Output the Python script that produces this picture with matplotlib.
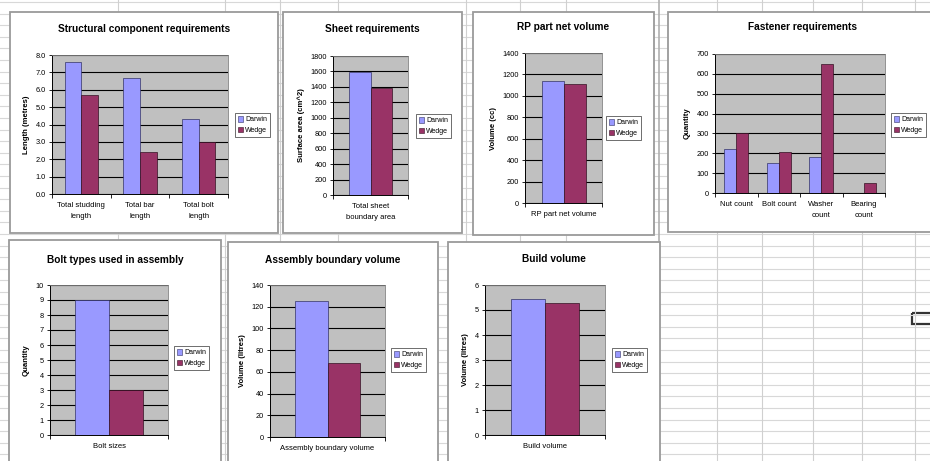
import numpy as np
import matplotlib
matplotlib.use("Agg")
import matplotlib.pyplot as plt
from matplotlib.patches import Rectangle, Patch

plt.rcParams['font.family'] = ['Liberation Sans', 'DejaVu Sans']

series = ["Darwin", "Wedge"]

# chart 1
struct_cats = ["Total studding\nlength", "Total bar\nlength", "Total bolt\nlength"]
struct_darwin = [7.6, 6.7, 4.3]
struct_wedge = [5.7, 2.4, 3.0]

# chart 2
sheet_cats = ["Total sheet\nboundary area"]
sheet_darwin = [1590]
sheet_wedge = [1390]

# chart 3
rp_cats = ["RP part net volume"]
rp_darwin = [1140]
rp_wedge = [1115]

# chart 4
fast_cats = ["Nut count", "Bolt count", "Washer\ncount", "Bearing\ncount"]
fast_darwin = [222, 152, 181, 0]
fast_wedge = [302, 206, 650, 50]

# chart 5
bolt_cats = ["Bolt sizes"]
bolt_darwin = [9]
bolt_wedge = [3]

# chart 6
asm_cats = ["Assembly boundary volume"]
asm_darwin = [125]
asm_wedge = [68]

# chart 7
build_cats = ["Build volume"]
build_darwin = [5.45]
build_wedge = [5.3]

W, H = 930, 461
fig = plt.figure(figsize=(W / 100, H / 100), dpi=100)
fig.patch.set_facecolor('white')


def rect(l, t, r, b):
    return [l / W, 1 - b / H, (r - l) / W, (b - t) / H]


# spreadsheet grid behind the charts
bg = fig.add_axes([0, 0, 1, 1])
bg.set_xlim(0, W)
bg.set_ylim(H, 0)
bg.axis('off')
for y in np.arange(2, H, 11.6):
    bg.axhline(y, color='#d8d8d8', lw=0.8)
for x in [118, 225, 280, 338, 466, 520, 566, 717, 762, 813, 862, 915]:
    bg.axvline(x, color='#d0d0d0', lw=0.8)
bg.axvline(659, color='#b0b0b0', lw=1.2)
bg.add_patch(Rectangle((912, 313), 22, 11, fill=False, ec='#333333', lw=1.6))

darwin_col = '#9999FF'
wedge_col = '#993366'

charts = [
    ("Structural component requirements", "Length (metres)", struct_cats, struct_darwin, struct_wedge,
     8.0, 1.0, '%.1f', (10, 12, 278, 233), (52, 55, 228, 194), (235, 125), 29),
    ("Sheet requirements", "Surface area (cm^2)", sheet_cats, sheet_darwin, sheet_wedge,
     1800, 200, '%d', (283, 12, 462, 233), (333, 56, 408, 195), (416, 126), 29),
    ("RP part net volume", "Volume (cc)", rp_cats, rp_darwin, rp_wedge,
     1400, 200, '%d', (473, 12, 654, 235), (525, 53, 602, 203), (606, 128), 27),
    ("Fastener requirements", "Quantity", fast_cats, fast_darwin, fast_wedge,
     700, 100, '%d', (668, 12, 936, 232), (715, 54, 885, 193), (891, 125), 27),
    ("Bolt types used in assembly", "Quantity", bolt_cats, bolt_darwin, bolt_wedge,
     10, 1, '%d', (9, 240, 221, 466), (50, 285, 168, 435), (174, 358), 260),
    ("Assembly boundary volume", "Volume (litres)", asm_cats, asm_darwin, asm_wedge,
     140, 20, '%d', (228, 242, 438, 466), (270, 285, 385, 437), (391, 360), 260),
    ("Build volume", "Volume (litres)", build_cats, build_darwin, build_wedge,
     6, 1, '%d', (448, 242, 660, 466), (485, 285, 605, 435), (612, 360), 259),
]

for title, ylab, cats, dv, wv, ymax, step, fmt, box, plot, leg, ty in charts:
    # chart frame
    bg.add_patch(Rectangle((box[0], box[1]), box[2] - box[0], box[3] - box[1],
                           fc='white', ec='#9a9a9a', lw=1.3, zorder=3))
    bg.text((box[0] + box[2]) / 2, ty, title, ha='center', va='center',
            fontsize=7.3, fontweight='bold', zorder=4)

    ax = fig.add_axes(rect(*plot))
    ax.set_facecolor('#C0C0C0')
    x = np.arange(len(cats))
    bw = 1 / 3.5
    ax.bar(x - bw / 2, dv, bw, color=darwin_col, edgecolor='#333366', lw=0.5, zorder=3)
    ax.bar(x + bw / 2, wv, bw, color=wedge_col, edgecolor='#331122', lw=0.5, zorder=3)
    ax.set_xlim(-0.5, len(cats) - 0.5)
    ax.set_ylim(0, ymax)
    ticks = np.arange(0, ymax + step / 2, step)
    ax.set_yticks(ticks)
    ax.set_yticklabels([fmt % t for t in ticks])
    ax.yaxis.grid(True, color='#000000', lw=0.8, zorder=1)
    ax.set_axisbelow(True)
    ax.set_xticks(x)
    ax.set_xticklabels(cats)
    ax.set_xticks(np.arange(-0.5, len(cats), 1), minor=True)
    ax.tick_params(axis='x', which='major', length=0, labelsize=5.5, pad=6)
    ax.tick_params(axis='x', which='minor', length=3, width=0.6, direction='out')
    ax.tick_params(axis='y', length=2.5, width=0.6, labelsize=5.3, pad=2)
    for s in ['top', 'right']:
        ax.spines[s].set_color('#808080')
        ax.spines[s].set_linewidth(0.6)
    ax.spines['left'].set_linewidth(0.7)
    ax.spines['bottom'].set_linewidth(0.7)
    ax.set_ylabel(ylab, fontsize=5.6, fontweight='bold', labelpad=4)
    for lab in ax.get_xticklabels():
        lab.set_linespacing(1.7)

    handles = [Patch(fc=darwin_col, ec='#333366', lw=0.4),
               Patch(fc=wedge_col, ec='#331122', lw=0.4)]
    lg = fig.legend(handles, series, loc='center left',
                    bbox_to_anchor=(leg[0] / W, 1 - leg[1] / H),
                    fontsize=5.0, frameon=True, fancybox=False, handlelength=0.8,
                    handleheight=0.8, handletextpad=0.3, borderpad=0.4,
                    labelspacing=0.5, borderaxespad=0)
    lg.get_frame().set_edgecolor('#000000')
    lg.get_frame().set_linewidth(0.5)

fig.savefig('out.png', dpi=100)
